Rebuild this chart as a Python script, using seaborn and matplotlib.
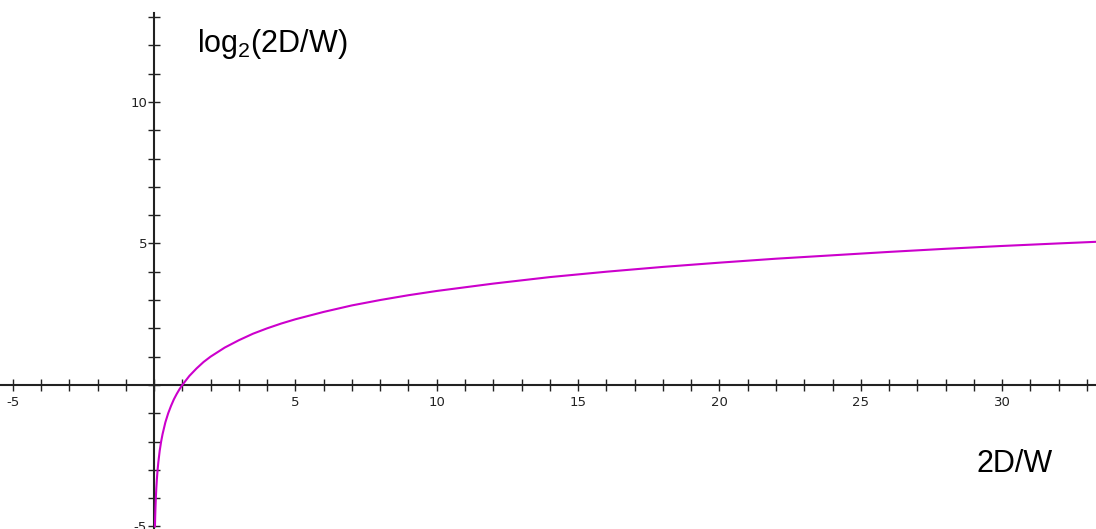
import matplotlib
matplotlib.use("Agg")
import matplotlib.pyplot as plt
import seaborn as sns
import pandas as pd

# values
x_vals = [0.031, 0.04, 0.05, 0.0625, 0.08, 0.1, 0.125, 0.15, 0.2, 0.25, 0.3, 0.4,
          0.5, 0.6, 0.7, 0.8, 0.9, 1.0, 1.25, 1.5, 1.75, 2.0, 2.5, 3.0, 3.5, 4.0,
          4.5, 5.0, 6.0, 7.0, 8.0, 9.0, 10.0, 12.0, 14.0, 16.0, 18.0, 20.0, 22.0,
          24.0, 26.0, 28.0, 30.0, 32.0, 33.4]
y_vals = [-5.01, -4.64, -4.32, -4.0, -3.64, -3.32, -3.0, -2.74, -2.32, -2.0, -1.74,
          -1.32, -1.0, -0.74, -0.51, -0.32, -0.15, 0.0, 0.32, 0.58, 0.81, 1.0, 1.32,
          1.58, 1.81, 2.0, 2.17, 2.32, 2.58, 2.81, 3.0, 3.17, 3.32, 3.58, 3.81, 4.0,
          4.17, 4.32, 4.46, 4.58, 4.70, 4.81, 4.91, 5.0, 5.06]
x_tick_labels = ["-5", "5", "10", "15", "20", "25", "30"]
y_tick_labels = ["-5", "5", "10"]
y_label = "log$_\\mathregular{2}$(2D/W)"
x_label = "2D/W"

df = pd.DataFrame({"x": x_vals, "y": y_vals})

sns.set_style("white")
plt.rcParams["font.family"] = ["Liberation Sans", "DejaVu Sans"]

fig = plt.figure(figsize=(10.96, 5.29), dpi=100)
ax = fig.add_axes([0, 0, 1, 1])
ax.set_facecolor("white")

sns.lineplot(data=df, x="x", y="y", ax=ax, color="#cc00cc", linewidth=1.5,
             sort=False, estimator=None)

ax.set_xlim(-5.45, 33.32)
ax.set_ylim(-5.09, 13.6)

for s in ["top", "right"]:
    ax.spines[s].set_visible(False)
ax.spines["left"].set_position(("data", 0))
ax.spines["bottom"].set_position(("data", 0))
ax.spines["left"].set_bounds(-5.09, 13.15)
for s in ["left", "bottom"]:
    ax.spines[s].set_color("#222222")
    ax.spines[s].set_linewidth(1.5)
    ax.spines[s].set_zorder(1)

ax.set_xticks([float(t) for t in x_tick_labels], labels=x_tick_labels)
ax.set_xticks(range(-5, 34), minor=True)
ax.set_yticks([float(t) for t in y_tick_labels], labels=y_tick_labels)
ax.set_yticks(range(-5, 14), minor=True)

for which in ["major", "minor"]:
    ax.tick_params(axis="both", which=which, direction="inout", length=8,
                   width=1.0, color="#222222", bottom=True, left=True,
                   top=False, right=False)
ax.tick_params(axis="x", which="major", labelsize=9.5, pad=4, labelcolor="#222222")
ax.tick_params(axis="y", which="major", labelsize=9.5, pad=1, labelcolor="#222222")
for lab in ax.get_xticklabels() + ax.get_yticklabels():
    lab.set_fontfamily("DejaVu Sans")

ax.set_xlabel("")
ax.set_ylabel("")

ax.text(1.52, 11.77, y_label, fontsize=22, ha="left", va="baseline",
        color="black")
ax.text(29.1, -3.07, x_label, fontsize=22, ha="left", va="baseline",
        color="black")

fig.savefig("out.png", dpi=100)
